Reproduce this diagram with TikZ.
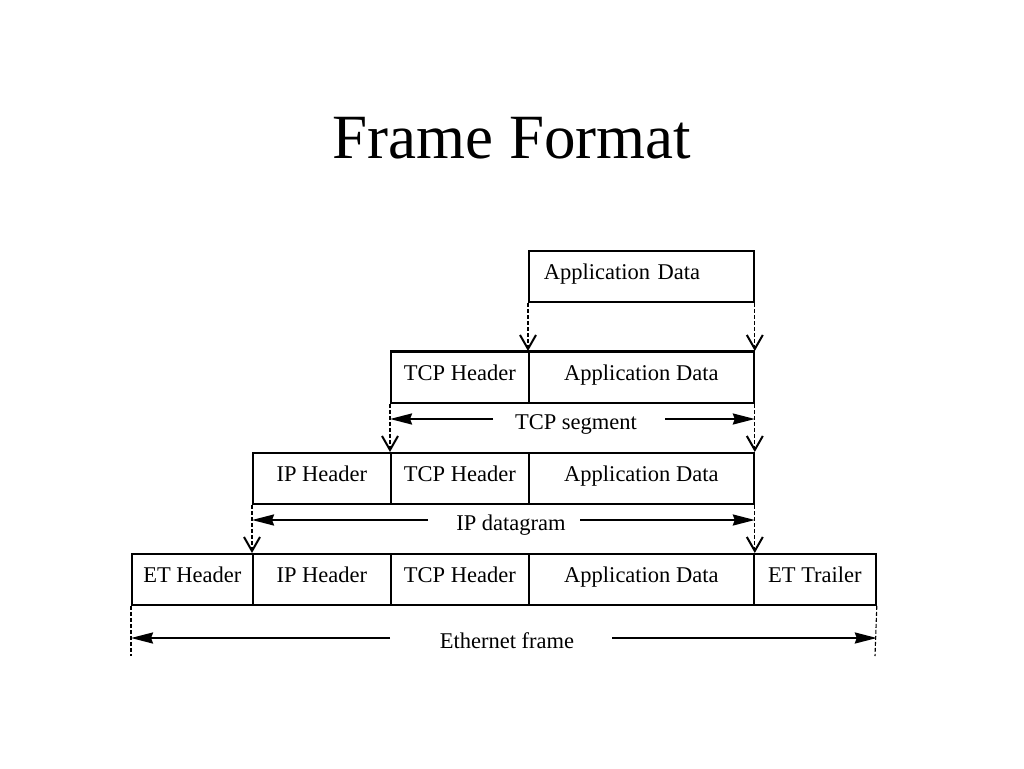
\documentclass[tikz,border=0pt]{standalone}
\usepackage{fontspec}
\setmainfont{Liberation Serif}
\usetikzlibrary{arrows.meta}
\begin{document}
\begin{tikzpicture}[x=1pt,y=-1pt,
  cell/.style={draw, line width=1.8pt, rectangle, inner sep=0pt, minimum height=51pt,
    anchor=north west, font=\fontsize{22.5}{27}\selectfont, text height=15pt, text depth=8pt},
  lbl/.style={font=\fontsize{22.5}{27}\selectfont, inner sep=0pt, anchor=base},
  vdash/.style={line width=1.1pt, dash pattern=on 4pt off 2pt},
  vtip/.style={line width=2pt, -{Straight Barb[length=14pt,width=16pt]}},
  harrow/.style={line width=2.2pt, -{Stealth[length=22pt,width=11pt,inset=2pt]}}]
\useasboundingbox (0,0) rectangle (1024,768);
\fill[white] (0,0) rectangle (1024,768);
% title
\node[font=\fontsize{63}{70}\selectfont, inner sep=0pt, anchor=base] (title) at (512,158) {Frame Format};
% row 1
\node[cell, text width=195pt, inner xsep=15pt, align=left] (a1) at (528,250) {Application Data};
% row 2
\node[cell, minimum width=138pt] (t2) at (390,351) {TCP Header};
\node[cell, minimum width=225pt] (a2) at (528,351) {Application Data};
\draw[line width=3pt] (t2.north west) -- (a2.north east);
% row 3
\node[cell, minimum width=138pt] (i3) at (252,452) {IP Header};
\node[cell, minimum width=138pt] (t3) at (390,452) {TCP Header};
\node[cell, minimum width=225pt] (a3) at (528,452) {Application Data};
% row 4
\node[cell, minimum width=121pt] (e4) at (131,553) {ET Header};
\node[cell, minimum width=138pt] (i4) at (252,553) {IP Header};
\node[cell, minimum width=138pt] (t4) at (390,553) {TCP Header};
\node[cell, minimum width=225pt] (a4) at (528,553) {Application Data};
\node[cell, minimum width=122pt] (r4) at (753,553) {ET Trailer};
% dashed arrows down
\draw[vdash] (a1.south west) -- (a2.north west);
\draw[vtip] ([yshift=2pt]a2.north west) -- (a2.north west);
\draw[vdash] (a1.south east) -- (a2.north east);
\draw[vtip] ([yshift=2pt]a2.north east) -- (a2.north east);
\draw[vdash] (t2.south west) -- (t3.north west);
\draw[vtip] ([yshift=2pt]t3.north west) -- (t3.north west);
\draw[vdash] (a2.south east) -- (a3.north east);
\draw[vtip] ([yshift=2pt]a3.north east) -- (a3.north east);
\draw[vdash] (i3.south west) -- (i4.north west);
\draw[vtip] ([yshift=2pt]i4.north west) -- (i4.north west);
\draw[vdash] (a3.south east) -- (a4.north east);
\draw[vtip] ([yshift=2pt]a4.north east) -- (a4.north east);
\coordinate (eL) at (131,656);
\coordinate (eR) at (875,656);
\draw[vdash] (e4.south west) -- (eL);
\draw[vdash] (r4.south east) -- (eR);
% span labels
\node[lbl] (tcpseg) at (576,429) {TCP segment};
\node[lbl] (ipdg) at (511,530) {IP datagram};
\node[lbl] (ethf) at (507,648) {Ethernet frame};
\coordinate (ts1) at (493,419);
\coordinate (ts2) at (665,419);
\coordinate (ip1) at (428,520);
\coordinate (ip2) at (580,520);
\coordinate (ef1) at (390,638);
\coordinate (ef2) at (612,638);
\draw[harrow] (ts1) -- (ts1 -| t2.south west);
\draw[harrow] (ts2) -- (ts2 -| a2.south east);
\draw[harrow] (ip1) -- (ip1 -| i3.south west);
\draw[harrow] (ip2) -- (ip2 -| a3.south east);
\draw[harrow] (ef1) -- (ef1 -| e4.south west);
\draw[harrow] (ef2) -- (ef2 -| r4.south east);
\end{tikzpicture}
\end{document}
